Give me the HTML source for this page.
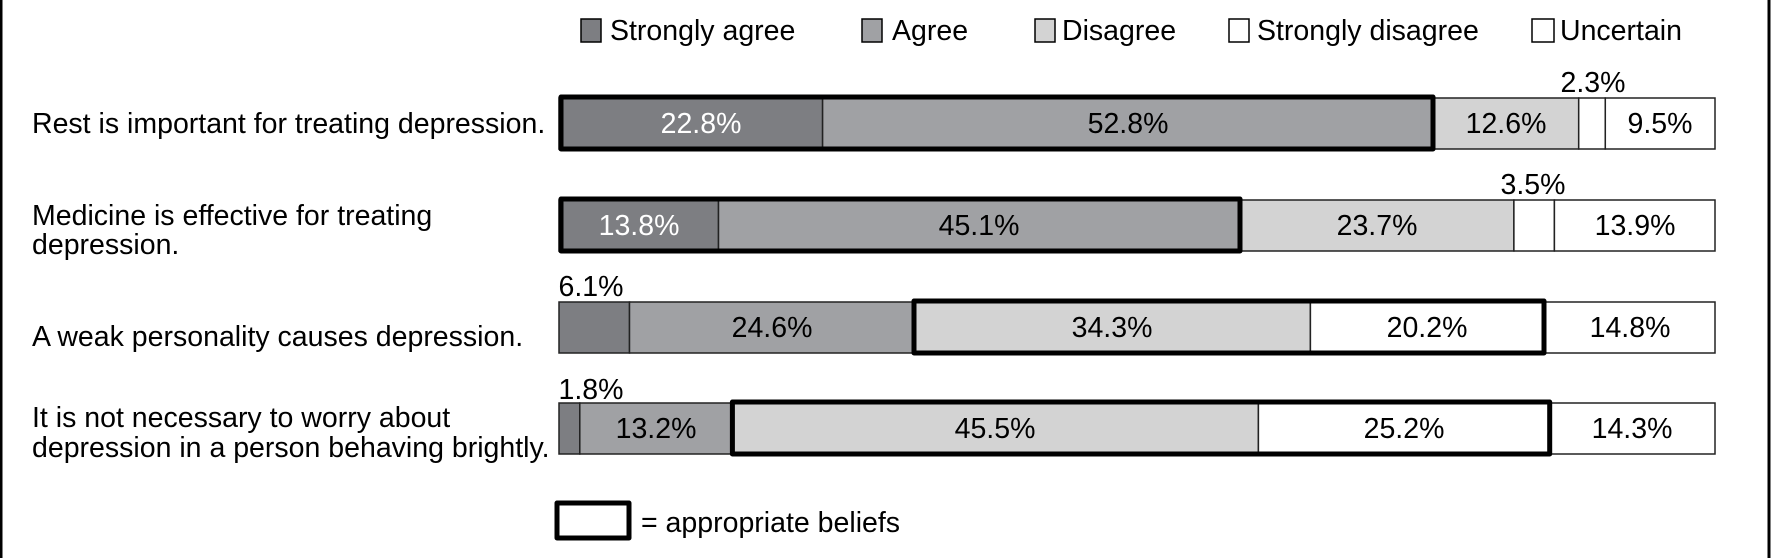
<!DOCTYPE html>
<html><head><meta charset="utf-8"><style>html,body{margin:0;padding:0;background:#fff}svg{display:block}</style></head>
<body>
<svg width="1772" height="558" viewBox="0 0 1772 558" xmlns="http://www.w3.org/2000/svg" font-family="Liberation Sans, sans-serif">
<rect width="1772" height="558" fill="#fff"/>
<line x1="1" y1="0" x2="1" y2="558" stroke="#000" stroke-width="3"/>
<line x1="1769" y1="0" x2="1769" y2="558" stroke="#000" stroke-width="3"/>
<!-- legend -->
<g stroke="#000" stroke-width="1.5">
<rect x="581" y="19" width="20" height="23" fill="#7d7e82"/>
<rect x="862" y="19" width="20" height="23" fill="#a0a1a4"/>
<rect x="1035" y="19" width="20" height="23" fill="#d3d3d3"/>
<rect x="1229" y="19" width="20" height="23" fill="#fff"/>
<rect x="1532" y="19" width="22" height="23" fill="#fff"/>
</g>
<g font-size="28.5" fill="#000">
<text x="610" y="40">Strongly agree</text>
<text x="892" y="40">Agree</text>
<text x="1062" y="40">Disagree</text>
<text x="1257" y="40">Strongly disagree</text>
<text x="1560" y="40">Uncertain</text>
</g>
<!-- labels -->
<g font-size="28.5" fill="#000">
<text x="32" y="133">Rest is important for treating depression.</text>
<text x="32" y="225">Medicine is effective for treating</text>
<text x="32" y="254">depression.</text>
<text x="32" y="346">A weak personality causes depression.</text>
<text x="32" y="427">It is not necessary to worry about</text>
<text x="32" y="457">depression in a person behaving brightly.</text>
</g>
<g stroke="#222" stroke-width="1.5">
<rect x="559" y="98" width="263.6" height="51" fill="#7d7e82"/>
<rect x="822.6" y="98" width="610.4" height="51" fill="#a0a1a4"/>
<rect x="1433" y="98" width="145.7" height="51" fill="#d3d3d3"/>
<rect x="1578.7" y="98" width="26.6" height="51" fill="#fff"/>
<rect x="1605.3" y="98" width="109.7" height="51" fill="#fff"/>
<rect x="559" y="200" width="159.5" height="51" fill="#7d7e82"/>
<rect x="718.5" y="200" width="521.4" height="51" fill="#a0a1a4"/>
<rect x="1239.9" y="200" width="274" height="51" fill="#d3d3d3"/>
<rect x="1513.9" y="200" width="40.5" height="51" fill="#fff"/>
<rect x="1554.4" y="200" width="160.6" height="51" fill="#fff"/>
<rect x="559" y="302" width="70.5" height="51" fill="#7d7e82"/>
<rect x="629.5" y="302" width="284.4" height="51" fill="#a0a1a4"/>
<rect x="913.9" y="302" width="396.5" height="51" fill="#d3d3d3"/>
<rect x="1310.4" y="302" width="233.5" height="51" fill="#fff"/>
<rect x="1543.9" y="302" width="171.1" height="51" fill="#fff"/>
<rect x="559" y="403" width="20.8" height="51" fill="#7d7e82"/>
<rect x="579.8" y="403" width="152.6" height="51" fill="#a0a1a4"/>
<rect x="732.4" y="403" width="526" height="51" fill="#d3d3d3"/>
<rect x="1258.4" y="403" width="291.3" height="51" fill="#fff"/>
<rect x="1549.7" y="403" width="165.3" height="51" fill="#fff"/>
</g>
<g fill="none" stroke="#000" stroke-width="5" stroke-linejoin="round">
<rect x="561" y="97" width="872" height="52"/>
<rect x="561" y="199" width="679" height="52"/>
<rect x="914" y="301" width="630" height="52"/>
<rect x="732.4" y="402" width="817.3" height="52"/>
<rect x="557" y="503" width="72" height="35"/>
</g>
<g font-size="28.5" text-anchor="middle" fill="#000">
<text x="701" y="133" fill="#fff">22.8%</text>
<text x="1128" y="133">52.8%</text>
<text x="1506" y="133">12.6%</text>
<text x="1660" y="133">9.5%</text>
<text x="1593" y="92">2.3%</text>
<text x="639" y="235" fill="#fff">13.8%</text>
<text x="979" y="235">45.1%</text>
<text x="1377" y="235">23.7%</text>
<text x="1635" y="235">13.9%</text>
<text x="1533" y="194">3.5%</text>
<text x="772" y="337">24.6%</text>
<text x="1112" y="337">34.3%</text>
<text x="1427" y="337">20.2%</text>
<text x="1630" y="337">14.8%</text>
<text x="591" y="296">6.1%</text>
<text x="656" y="438">13.2%</text>
<text x="995" y="438">45.5%</text>
<text x="1404" y="438">25.2%</text>
<text x="1632" y="438">14.3%</text>
<text x="591" y="399">1.8%</text>
</g>
<text x="641" y="532" font-size="28.5" fill="#000">= appropriate beliefs</text>
</svg>
</body></html>
